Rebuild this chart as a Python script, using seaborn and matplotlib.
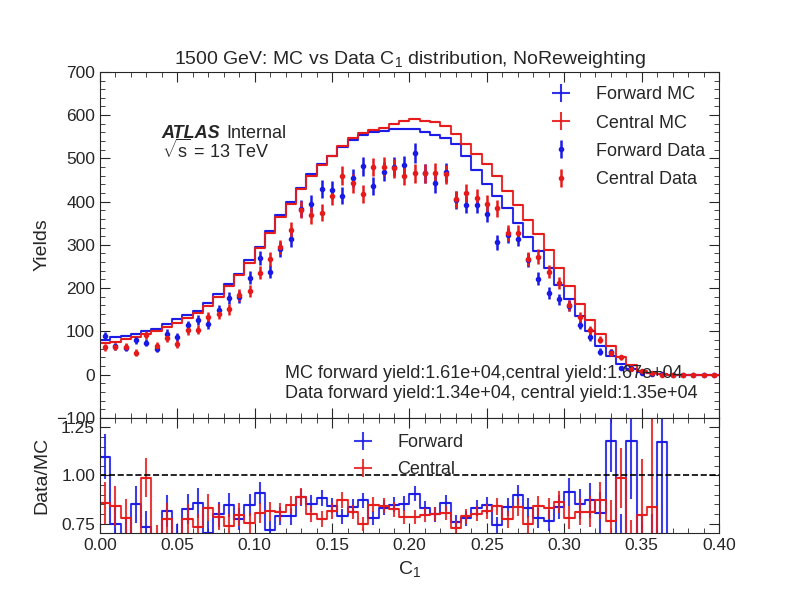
import numpy as np
import pandas as pd
import matplotlib
matplotlib.use("Agg")
import matplotlib.pyplot as plt
from matplotlib.ticker import AutoMinorLocator, MultipleLocator
import seaborn as sns

# 60 bins of C1 between 0 and 0.4
bin_edges = [i * 0.4 / 60 for i in range(61)]

forward_mc = [80.6, 86.8, 90, 93, 100.8, 105.4, 116, 128.7, 138, 146.5,
              166, 186.8, 209, 232.6, 265, 296, 333, 368, 398, 432,
              463, 486, 505, 526, 543, 553, 560, 564, 567, 568,
              567, 560, 554, 546, 533, 505, 474, 440, 412, 385,
              350, 319, 285, 246, 208, 174, 135, 100, 66, 44,
              25, 12.7, 6, 2.5, 0.85, 0, 0, 0, 0, 0]
central_mc = [73.6, 76, 82, 86.8, 93, 100.8, 110, 119, 131.8, 142.6,
              159.7, 180, 204.7, 231, 257, 293, 328, 364, 395, 428,
              459, 484, 505, 528, 546, 558, 566, 571, 579, 587,
              592, 587, 583, 575, 556, 533, 509, 486, 459, 424,
              391, 358, 325, 287, 246, 205, 164, 125.6, 93, 66.7,
              40, 21, 9.3, 3, 1, 0, 0, 0, 0, 0]
forward_data = [88.4, 65, 62, 79, 73.6, 59.7, 94.6, 86.8, 114, 125.6,
                116, 149, 177, 180, 224, 269, 238, 290, 313, 383,
                395, 429, 426, 414, 455, 482, 436, 469, 481, 484,
                513, 465, 442, 468, 404, 393, 393, 372, 306, 322,
                314, 265, 222, 188, 174, 159, 115, 87, 53, 52,
                16, 15, 3, 1, 1, 0, 0, 0, 0, 0]
central_data = [63, 64, 64, 51, 92, 66.7, 85, 71, 102, 104,
                133, 141, 151, 184, 193, 236, 267, 295, 335, 381,
                368, 374, 412, 460, 442, 418, 480, 481, 477, 459,
                465, 465, 467, 463, 405, 420, 408, 395, 385, 327,
                327, 267, 273, 238, 212, 160, 133, 102, 81, 51,
                39.5, 12.6, 7.4, 2.5, 0, 0, 0, 0, 0, 0]

mc_text = "MC forward yield:1.61e+04,central yield:1.67e+04"
data_text = "Data forward yield:1.34e+04, central yield:1.35e+04"

BLUE = "#1a1ae6"
RED = "#e61a1a"


def ratio_and_error(data, mc):
    data = np.asarray(data, dtype=float)
    mc = np.asarray(mc, dtype=float)
    ratio = np.zeros_like(data)
    err = np.zeros_like(data)
    ok = mc > 0
    ratio[ok] = data[ok] / mc[ok]
    err[ok] = np.sqrt(data[ok]) / mc[ok]
    return ratio, err


def step_hist(ax, centers, values, color, alpha=0.9):
    df = pd.DataFrame({"c1": centers, "w": np.asarray(values, dtype=float)})
    sns.histplot(data=df, x="c1", weights="w", bins=bin_edges, element="step",
                 fill=False, color=color, linewidth=1.5, alpha=alpha, ax=ax)


def style_axis(ax):
    ax.tick_params(which="both", direction="in", top=True, right=True,
                   labelsize=12.5)
    ax.tick_params(which="major", length=7)
    ax.tick_params(which="minor", length=3.5)


sns.set_style("ticks")
plt.rcParams["font.family"] = ["Liberation Sans", "DejaVu Sans"]
plt.rcParams["mathtext.fontset"] = "custom"
plt.rcParams["mathtext.rm"] = "Liberation Sans"
plt.rcParams["mathtext.it"] = "Liberation Sans:italic"
plt.rcParams["mathtext.bf"] = "Liberation Sans:bold"

fig, (ax1, ax2) = plt.subplots(2, 1, sharex=True, figsize=(7.99, 5.99), dpi=100,
                               gridspec_kw={"height_ratios": [3, 1], "hspace": 0})

edges = np.asarray(bin_edges)
centers = 0.5 * (edges[1:] + edges[:-1])
half = 0.5 * (edges[1] - edges[0])

# top panel
for vals, color, label in [(forward_mc, BLUE, "Forward MC"), (central_mc, RED, "Central MC")]:
    step_hist(ax1, centers, vals, color)
    v = np.asarray(vals, dtype=float)
    ax1.errorbar(centers, v, xerr=half, yerr=np.sqrt(v) * 0.05, fmt="none",
                 ecolor=color, elinewidth=1.5, alpha=0.9, label=label)

fd = np.asarray(forward_data, dtype=float)
cd = np.asarray(central_data, dtype=float)
ax1.errorbar(centers, fd, yerr=np.sqrt(fd), fmt="o", ms=3, color=BLUE,
             elinewidth=1.8, label="Forward Data")
ax1.errorbar(centers, cd, yerr=np.sqrt(cd), fmt="o", ms=3, color=RED,
             elinewidth=1.8, label="Central Data")

ax1.set_xlim(0, 0.4)
ax1.set_ylim(-100, 700)
ax1.yaxis.set_major_locator(MultipleLocator(100))
ax1.yaxis.set_minor_locator(AutoMinorLocator(5))
ax1.set_ylabel("Yields", fontsize=14)
ax1.set_xlabel("")
ax1.set_title("1500 GeV: MC vs Data C$_1$ distribution, NoReweighting", fontsize=14)
ax1.legend(loc="upper right", frameon=False, fontsize=13, handlelength=2.2,
           labelspacing=0.62, borderaxespad=0.4)
style_axis(ax1)

ax1.text(0.1, 0.809, "ATLAS", transform=ax1.transAxes, fontsize=13,
         fontweight="bold", fontstyle="italic")
ax1.text(0.205, 0.809, "Internal", transform=ax1.transAxes, fontsize=13)
ax1.text(0.1, 0.752, r"$\sqrt{\mathrm{s}}$ = 13 TeV", transform=ax1.transAxes,
         fontsize=13)
ax1.text(0.299, 0.116, mc_text, transform=ax1.transAxes, fontsize=13)
ax1.text(0.299, 0.058, data_text, transform=ax1.transAxes, fontsize=13)

# ratio panel
fr, fe = ratio_and_error(forward_data, forward_mc)
cr, ce = ratio_and_error(central_data, central_mc)
for r, e, color, label in [(fr, fe, BLUE, "Forward"), (cr, ce, RED, "Central")]:
    step_hist(ax2, centers, r, color, alpha=0.85)
    ax2.errorbar(centers, r, xerr=half, yerr=e, fmt="none", ecolor=color,
                 elinewidth=1.5, alpha=0.85, label=label)
ax2.axhline(1.0, color="black", linestyle="--", linewidth=1.2)

ax2.set_xlim(0, 0.4)
ax2.set_ylim(0.7, 1.3)
ax2.yaxis.set_major_locator(MultipleLocator(0.25))
ax2.yaxis.set_minor_locator(AutoMinorLocator(5))
ax2.xaxis.set_major_locator(MultipleLocator(0.05))
ax2.xaxis.set_minor_locator(AutoMinorLocator(5))
ax2.set_ylabel("Data/MC", fontsize=14)
ax2.set_xlabel("C$_1$", fontsize=14)
ax2.legend(loc="upper center", frameon=False, fontsize=13, handlelength=2.2,
           bbox_to_anchor=(0.49, 1.0), labelspacing=0.55)
style_axis(ax2)

fig.align_ylabels([ax1, ax2])

fig.savefig("out.png", dpi=100)
